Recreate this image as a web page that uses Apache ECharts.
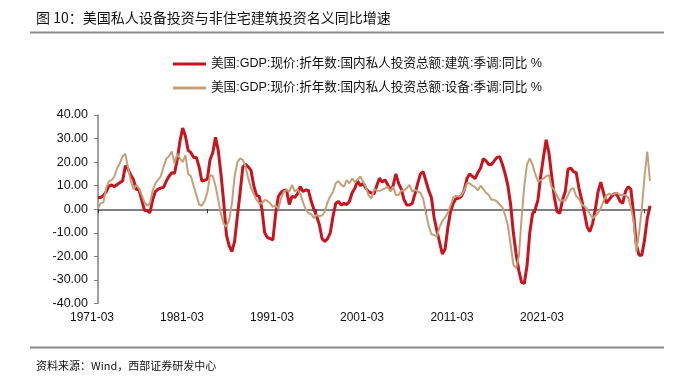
<!DOCTYPE html>
<html><head><meta charset="utf-8">
<script src="https://cdn.jsdelivr.net/npm/echarts@6/dist/echarts.min.js"></script>
<style>html,body{margin:0;padding:0;background:#fff}#c{width:694px;height:379px}</style>
</head><body><div id="c"></div>
<script>
const seriesNames = ['美国:GDP:现价:折年数:国内私人投资总额:建筑:季调:同比 %','美国:GDP:现价:折年数:国内私人投资总额:设备:季调:同比 %'];
const tickLabels = ['1971-03','1981-03','1991-03','2001-03','2011-03','2021-03'];
const yTicks = {min:-40, max:40, interval:10};
const structures = [5.0,5.0,5.8,7.5,9.8,10.3,9.6,10.5,11.3,12.0,
18.5,17.0,14.5,12.5,8.5,8.2,4.0,-0.5,-0.5,-1.5,
4.0,7.5,8.5,9.0,9.3,12.0,14.0,15.5,15.3,21.0,
29.0,34.5,31.0,25.0,24.0,22.0,22.0,18.0,12.0,12.3,
12.8,21.0,24.0,30.5,25.0,15.0,3.0,-11.0,-15.5,-18.0,
-13.5,-3.0,7.0,18.0,19.0,18.0,16.5,10.0,6.0,5.4,
0.0,-10.0,-12.0,-12.5,-13.0,-2.0,5.4,7.2,8.0,8.2,
2.0,5.5,5.0,6.5,9.6,7.5,8.2,8.0,3.5,0.0,
-3.0,-6.5,-12.5,-13.7,-12.5,-10.0,-3.0,2.5,3.3,1.8,
2.5,2.0,3.3,7.0,8.9,12.0,10.0,11.0,9.0,7.5,
7.0,6.5,10.0,13.2,11.5,12.5,10.5,8.0,10.0,15.0,
11.0,8.5,4.0,1.8,1.8,2.5,6.5,11.0,15.0,16.0,
12.0,8.0,5.0,-3.5,-9.0,-14.0,-19.0,-17.0,-8.0,-1.0,
2.5,4.5,4.7,5.5,8.0,13.0,15.0,14.0,13.0,15.5,
17.5,21.5,20.5,19.0,19.0,20.5,22.0,22.3,19.0,15.0,
10.0,2.0,-10.0,-19.0,-26.0,-31.0,-31.5,-24.0,-10.0,-2.0,
0.0,4.0,14.0,22.0,29.5,24.0,14.5,5.0,-1.0,-1.7,
4.0,7.5,17.0,17.5,16.0,15.5,9.0,4.0,-1.5,-7.5,
-9.5,-6.0,0.0,7.5,11.5,7.0,2.6,4.0,5.5,6.7,
6.0,3.5,2.5,7.5,9.6,8.5,-2.0,-15.0,-19.5,-19.5,
-13.0,-4.0,1.5];
const equipment = [0.5,2.5,3.0,9.0,11.8,12.4,13.9,17.5,19.5,22.5,
23.5,17.5,12.0,8.5,10.3,9.0,6.0,3.0,1.5,2.5,
8.0,11.0,12.5,14.0,18.0,21.5,22.5,24.5,19.5,23.5,
21.6,20.0,23.0,15.0,14.0,10.0,6.0,2.0,1.5,3.5,
7.0,14.6,14.0,10.0,4.0,-2.0,-6.2,-7.4,-4.5,2.5,
14.0,20.0,21.6,21.0,18.0,13.0,9.0,6.5,4.0,2.5,
2.5,4.0,3.5,2.5,1.0,1.5,0.2,4.7,7.5,8.2,
7.5,10.3,7.5,8.5,6.5,3.0,0.0,-1.7,-2.0,-3.8,
-2.4,-3.0,-2.6,-1.0,3.0,5.5,7.3,11.0,12.0,10.3,
9.6,12.4,11.0,13.0,11.5,12.6,13.9,11.7,9.5,6.0,
4.5,8.5,8.0,7.8,8.3,8.9,9.6,7.5,9.6,6.0,
6.0,8.0,8.0,9.0,10.3,7.5,8.2,7.5,7.0,4.5,
-1.5,-7.0,-10.5,-11.0,-11.5,-7.5,-5.0,-3.5,-1.5,1.5,
5.0,5.8,5.4,6.0,8.0,11.0,11.0,10.0,9.4,8.0,
10.0,8.5,7.0,6.0,4.0,4.0,3.3,2.0,0.8,-2.5,
-7.0,-15.0,-23.5,-25.0,-20.0,-4.0,10.0,19.0,21.6,19.0,
15.0,11.8,12.3,13.0,14.0,14.5,9.4,8.2,5.5,3.5,
3.8,3.6,6.0,8.5,9.0,5.4,4.5,2.0,1.3,0.0,
-2.0,-3.8,-2.8,-1.5,0.5,3.5,5.8,6.6,6.3,6.5,
7.0,6.0,6.0,6.0,5.0,1.0,-5.0,-18.0,-10.0,0.0,
14.0,24.5,12.0];
const quarters = [];
for (let i = 0; i < structures.length; i++) {
  const y = 1971 + Math.floor(i / 4);
  const m = ['03','06','09','12'][i % 4];
  quarters.push(y + '-' + m);
}
const FONT = 'Liberation Sans, Arial, "Noto Sans CJK SC", sans-serif';
const chart = echarts.init(document.getElementById('c'), null, {renderer:'canvas'});
chart.setOption({
  animation: false,
  backgroundColor: '#fff',
  title: [
    {text: '图 10：美国私人设备投资与非住宅建筑投资名义同比增速', left: 31, top: 6,
     textStyle: {fontSize: 14, fontWeight: 'normal', color: '#111', fontFamily: '"Noto Sans CJK SC", sans-serif'}},
    {text: '资料来源：Wind，西部证券研发中心', left: 31, top: 355,
     textStyle: {fontSize: 11, fontWeight: 'normal', color: '#111', fontFamily: '"Noto Sans CJK SC", sans-serif'}}
  ],
  graphic: [
    {type: 'line', shape: {x1: 30, y1: 32.5, x2: 664, y2: 32.5}, style: {stroke: '#8c8c8c', lineWidth: 2}},
    {type: 'line', shape: {x1: 30, y1: 347.5, x2: 664, y2: 347.5}, style: {stroke: '#8c8c8c', lineWidth: 2}}
  ],
  legend: {
    orient: 'vertical', left: 168, top: 51, itemWidth: 33, itemHeight: 3, itemGap: 8, icon: 'rect',
    textStyle: {fontSize: 12.6, color: '#111', fontFamily: FONT, lineHeight: 16, padding: [0,0,0,0]},
    data: seriesNames
  },
  grid: [
    {left: 98, right: 44, top: 115, bottom: 75.5, containLabel: false},
    {left: 92, right: 152, top: 115, bottom: 75.5, containLabel: false}
  ],
  xAxis: [
    {type: 'category', gridIndex: 0, data: quarters, boundaryGap: false,
     axisLine: {onZero: true, lineStyle: {color: '#808080', width: 2}},
     axisTick: {show: true, interval: 39, length: 4, lineStyle: {color: '#333', width: 1}},
     axisLabel: {show: false}, splitLine: {show: false}},
    {type: 'category', gridIndex: 1, data: tickLabels, boundaryGap: false, position: 'bottom',
     axisLine: {show: false}, axisTick: {show: false}, splitLine: {show: false},
     axisLabel: {show: true, interval: 0, fontSize: 12, color: '#111', fontFamily: FONT, margin: 8}}
  ],
  yAxis: [
    {type: 'value', gridIndex: 0, min: yTicks.min, max: yTicks.max, interval: yTicks.interval,
     axisLine: {show: true, lineStyle: {color: '#808080', width: 1.5}},
     axisTick: {show: true, length: 4, lineStyle: {color: '#808080'}},
     axisLabel: {fontSize: 12.5, color: '#111', fontFamily: FONT, margin: 10, formatter: v => v.toFixed(2)},
     splitLine: {show: false}},
    {type: 'value', gridIndex: 1, min: yTicks.min, max: yTicks.max, show: false}
  ],
  series: [
    {name: seriesNames[0], type: 'line', data: structures, showSymbol: false, symbol: 'none',
     xAxisIndex: 0, yAxisIndex: 0, color: '#C8141E', lineStyle: {color: '#C8141E', width: 3}, z: 2},
    {name: seriesNames[1], type: 'line', data: equipment, showSymbol: false, symbol: 'none',
     xAxisIndex: 0, yAxisIndex: 0, color: '#C4A07A', lineStyle: {color: '#C4A07A', width: 2}, z: 3}
  ]
});
</script></body></html>
